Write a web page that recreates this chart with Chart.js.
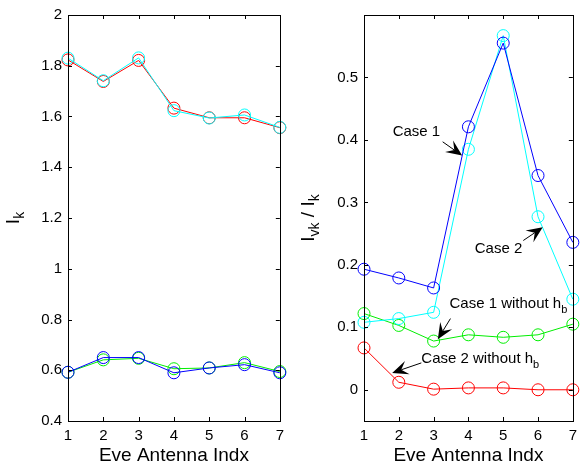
<!DOCTYPE html>
<html>
<head>
<meta charset="utf-8">
<script src="https://cdn.jsdelivr.net/npm/chart.js@4.4.0/dist/chart.umd.min.js"></script>
<style>
  html, body { margin: 0; padding: 0; background: #fff; }
  #wrap { position: relative; width: 583px; height: 470px; overflow: hidden; }
  canvas { position: absolute; top: 0; }
  #c1 { left: 0; }
  #c2 { left: 290px; }
</style>
</head>
<body>
<div id="wrap">
  <canvas id="c1" width="290" height="470"></canvas>
  <canvas id="c2" width="293" height="470"></canvas>
</div>
<script>
// data
var antennaIdx = [1, 2, 3, 4, 5, 6, 7];

// left panel: I_k
var ikRed   = [1.823, 1.738, 1.821, 1.633, 1.595, 1.595, 1.556];
var ikCyan  = [1.830, 1.741, 1.831, 1.623, 1.594, 1.606, 1.557];
var ikGreen = [0.592, 0.641, 0.647, 0.606, 0.609, 0.630, 0.595];
var ikBlue  = [0.592, 0.650, 0.650, 0.590, 0.609, 0.622, 0.590];

// right panel: I_vk / I_k
var ratioCase1     = [0.193, 0.179, 0.163, 0.421, 0.555, 0.343, 0.236];
var ratioCase2     = [0.108, 0.114, 0.124, 0.385, 0.567, 0.277, 0.145];
var ratioCase1NoHb = [0.122, 0.103, 0.078, 0.088, 0.084, 0.088, 0.105];
var ratioCase2NoHb = [0.067, 0.012, 0.001, 0.003, 0.003, 0.000, 0.000];

// ticks
var xTicks = [1, 2, 3, 4, 5, 6, 7];
var ikTicks = [0.4, 0.6, 0.8, 1, 1.2, 1.4, 1.6, 1.8, 2];
var ikTickLabels = ['0.4', '0.6', '0.8', '1', '1.2', '1.4', '1.6', '1.8', '2'];
var ratioTicks = [0, 0.1, 0.2, 0.3, 0.4, 0.5];
var ratioTickLabels = ['0', '0.1', '0.2', '0.3', '0.4', '0.5'];

var FONT = '"Liberation Sans", Arial, Helvetica, sans-serif';

function pts(ys) {
  return antennaIdx.map(function (x, i) { return { x: x, y: ys[i] }; });
}

function series(ys, color) {
  return {
    data: pts(ys),
    borderColor: color,
    borderWidth: 1,
    pointStyle: 'circle',
    pointRadius: 6,
    pointBorderWidth: 1,
    pointBorderColor: color,
    pointBackgroundColor: 'rgba(0,0,0,0)',
    fill: false,
    tension: 0,
    clip: false
  };
}

// box round the plot area with inward tick marks (MATLAB style)
var boxPlugin = {
  id: 'box',
  afterDraw: function (chart) {
    var ctx = chart.ctx, a = chart.chartArea;
    var xs = chart.scales.x, ys = chart.scales.y;
    var len = 4;
    ctx.save();
    ctx.strokeStyle = '#000';
    ctx.lineWidth = 1;
    ctx.strokeRect(Math.round(a.left) + 0.5, Math.round(a.top) + 0.5,
      Math.round(a.right - a.left), Math.round(a.bottom - a.top));
    ctx.beginPath();
    xs.ticks.forEach(function (t) {
      var px = Math.round(xs.getPixelForValue(t.value)) + 0.5;
      ctx.moveTo(px, a.bottom); ctx.lineTo(px, a.bottom - len);
      ctx.moveTo(px, a.top); ctx.lineTo(px, a.top + len);
    });
    ys.ticks.forEach(function (t) {
      var py = Math.round(ys.getPixelForValue(t.value)) + 0.5;
      ctx.moveTo(a.left, py); ctx.lineTo(a.left + len, py);
      ctx.moveTo(a.right, py); ctx.lineTo(a.right - len, py);
    });
    ctx.stroke();
    ctx.restore();
  }
};

// text made of parts, some of them subscripts
function partsWidth(ctx, parts, size, subSize) {
  var w = 0;
  parts.forEach(function (p) {
    ctx.font = (p.sub ? subSize : size) + 'px ' + FONT;
    w += ctx.measureText(p.t).width;
  });
  return w;
}
function drawParts(ctx, parts, x, y, size, subSize, subShift) {
  parts.forEach(function (p) {
    ctx.font = (p.sub ? subSize : size) + 'px ' + FONT;
    ctx.fillText(p.t, x, p.sub ? y + subShift : y);
    x += ctx.measureText(p.t).width;
  });
}

// rotated y-axis title with subscripts
var yTitlePlugin = {
  id: 'yTitle',
  afterDraw: function (chart, args, opts) {
    var ctx = chart.ctx, a = chart.chartArea;
    var cy = (a.top + a.bottom) / 2;
    ctx.save();
    ctx.fillStyle = '#000';
    ctx.textBaseline = 'alphabetic';
    ctx.textAlign = 'left';
    ctx.translate(opts.baseX, cy);
    ctx.rotate(-Math.PI / 2);
    var w = partsWidth(ctx, opts.parts, 19, 14);
    drawParts(ctx, opts.parts, -w / 2, 0, 19, 14, 5);
    ctx.restore();
  }
};

// text + arrow notes placed in data units
var notePlugin = {
  id: 'notes',
  afterDatasetsDraw: function (chart, args, opts) {
    var ctx = chart.ctx, xs = chart.scales.x, ys = chart.scales.y;
    ctx.save();
    ctx.fillStyle = '#000';
    ctx.strokeStyle = '#000';
    ctx.textBaseline = 'middle';
    ctx.textAlign = 'left';
    (opts.items || []).forEach(function (n) {
      var tx = xs.getPixelForValue(n.text[0]);
      var ty = ys.getPixelForValue(n.text[1]);
      var w = partsWidth(ctx, n.parts, 15, 11);
      var sx = n.align === 'center' ? tx - w / 2 : tx;
      drawParts(ctx, n.parts, sx, ty, 15, 11, 6);

      var x0 = xs.getPixelForValue(n.from[0]), y0 = ys.getPixelForValue(n.from[1]);
      var x1 = xs.getPixelForValue(n.to[0]), y1 = ys.getPixelForValue(n.to[1]);
      var ang = Math.atan2(y1 - y0, x1 - x0);
      var ux = Math.cos(ang), uy = Math.sin(ang), nx = -uy, ny = ux;
      var L = 16, W = 7;
      ctx.lineWidth = 1;
      ctx.beginPath();
      ctx.moveTo(x0, y0);
      ctx.lineTo(x1 - ux * L * 0.6, y1 - uy * L * 0.6);
      ctx.stroke();
      ctx.beginPath();
      ctx.moveTo(x1, y1);
      ctx.lineTo(x1 - ux * L + nx * W, y1 - uy * L + ny * W);
      ctx.lineTo(x1 - ux * L * 0.6, y1 - uy * L * 0.6);
      ctx.lineTo(x1 - ux * L - nx * W, y1 - uy * L - ny * W);
      ctx.closePath();
      ctx.fill();
    });
    ctx.restore();
  }
};

function makeOptions(yMin, yMax, yTicks, yLabels, yWidth, padRight, titleX, titleParts, notes) {
  return {
    responsive: false,
    animation: false,
    devicePixelRatio: 1,
    layout: { padding: { top: 10, right: padRight, left: 0, bottom: 0 } },
    plugins: {
      legend: { display: false },
      tooltip: { enabled: false },
      yTitle: { baseX: titleX, parts: titleParts },
      notes: { items: notes }
    },
    scales: {
      x: {
        type: 'linear',
        min: 1, max: 7,
        afterBuildTicks: function (s) { s.ticks = xTicks.map(function (v) { return { value: v }; }); },
        afterFit: function (s) { s.height = 49; },
        grid: { display: false, drawTicks: false },
        border: { display: false },
        ticks: {
          color: '#000', padding: 6, maxRotation: 0,
          font: { family: FONT, size: 15 },
          callback: function (v) { return String(v); }
        },
        title: {
          display: true, text: 'Eve Antenna Indx', color: '#000',
          font: { family: FONT, size: 19 }, padding: { top: 0, bottom: 3 }
        }
      },
      y: {
        type: 'linear',
        min: yMin, max: yMax,
        afterBuildTicks: function (s) { s.ticks = yTicks.map(function (v) { return { value: v }; }); },
        afterFit: function (s) { s.width = yWidth; },
        grid: { display: false, drawTicks: false },
        border: { display: false },
        ticks: {
          color: '#000', padding: 6,
          font: { family: FONT, size: 15 },
          callback: function (v, i) { return yLabels[i]; }
        }
      }
    }
  };
}

// left panel (draw order: first dataset ends on top)
new Chart(document.getElementById('c1'), {
  type: 'line',
  data: {
    datasets: [
      series(ikBlue, '#0000ff'),
      series(ikGreen, '#00ee00'),
      series(ikCyan, '#00ffff'),
      series(ikRed, '#ff0000')
    ]
  },
  options: makeOptions(0.4, 2, ikTicks, ikTickLabels, 68, 7, 19,
    [{ t: 'I' }, { t: 'k', sub: true }], []),
  plugins: [boxPlugin, yTitlePlugin, notePlugin]
});

// right panel
var notes = [
  { parts: [{ t: 'Case 1' }], text: [2.507, 0.413], align: 'center',
    from: [3.26, 0.397], to: [3.82, 0.375] },
  { parts: [{ t: 'Case 2' }], text: [4.865, 0.225], align: 'center',
    from: [5.577, 0.239], to: [6.135, 0.260] },
  { parts: [{ t: 'Case 1 without h' }, { t: 'b', sub: true }], text: [3.456, 0.138], align: 'left',
    from: [3.484, 0.114], to: [3.121, 0.081] },
  { parts: [{ t: 'Case 2 without h' }, { t: 'b', sub: true }], text: [2.647, 0.049], align: 'left',
    from: [2.647, 0.043], to: [1.809, 0.027] }
];

new Chart(document.getElementById('c2'), {
  type: 'line',
  data: {
    datasets: [
      series(ratioCase1, '#0000ff'),
      series(ratioCase2, '#00ffff'),
      series(ratioCase1NoHb, '#00ee00'),
      series(ratioCase2NoHb, '#ff0000')
    ]
  },
  options: makeOptions(-0.05, 0.6, ratioTicks, ratioTickLabels, 74, 4, 24,
    [{ t: 'I' }, { t: 'vk', sub: true }, { t: ' / ' }, { t: 'I' }, { t: 'k', sub: true }], notes),
  plugins: [boxPlugin, yTitlePlugin, notePlugin]
});
</script>
</body>
</html>
